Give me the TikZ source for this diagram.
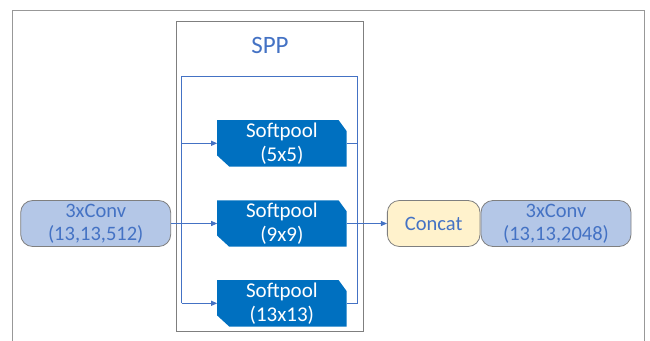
\documentclass[tikz,border=0pt]{standalone}
\usepackage{fontspec}
\setmainfont{Carlito}
\usetikzlibrary{arrows.meta,backgrounds}

\definecolor{poolblue}{HTML}{0070C0}
\definecolor{convfill}{HTML}{B4C7E7}
\definecolor{lineblue}{HTML}{4472C4}
\definecolor{concatfill}{HTML}{FFF2CC}
\definecolor{edgegray}{HTML}{7F7F7F}

\tikzset{
    link/.style={draw=lineblue, line width=0.8pt},
    tip/.style={-{Triangle[length=6pt,width=5pt]}},
    pool/.style={minimum width=129pt, minimum height=46pt, inner sep=0pt, align=center,
        text=white, font=\fontsize{21}{24}\selectfont},
    conv/.style={draw=edgegray, fill=convfill, rounded corners=12pt, line width=0.8pt,
        minimum width=150pt, minimum height=46pt, inner sep=0pt, align=center,
        text=lineblue, font=\fontsize{20.5}{23}\selectfont},
}

\begin{document}
\begin{tikzpicture}[x=1pt, y=-1pt]
    \useasboundingbox (0,0) rectangle (650,340);
    \draw[edgegray!80, line width=1pt] (12.3,345) |- (644.3,10.3) -- (644.3,345);
    \draw[edgegray, line width=1pt] (176.7,21.5) rectangle (363.3,331.7);
    \node[text=lineblue, font=\fontsize{25}{30}\selectfont] (spp) at (270,45) {SPP};

    \node[conv] (convin) at (95.7,223.5) {3xConv\\(13,13,512)};
    \node[pool] (p5) at (281.9,143.3) {Softpool\\(5x5)};
    \node[pool] (p9) at (281.9,223.5) {Softpool\\(9x9)};
    \node[pool] (p13) at (281.9,303.3) {Softpool\\(13x13)};
    \node[conv, fill=concatfill, minimum width=92.7pt] (concat) at (433.7,223.5) {Concat};
    \node[conv, minimum width=150pt] (convout) at (556,223.5) {3xConv\\(13,13,2048)};

    % snipped boxes behind the pooling labels
    \begin{scope}[on background layer]
        \foreach \p in {p5,p9,p13}
            \fill[poolblue] (\p.north west) -- ([xshift=-8pt]\p.north east)
                -- ([yshift=-11pt]\p.north east) -- (\p.south east)
                -- ([xshift=12pt]\p.south west) -- ([yshift=11pt]\p.south west) -- cycle;
    \end{scope}

    \coordinate (splitL) at (181.7,76.7);
    \coordinate (splitR) at (357.7,76.7);
    \draw[link] (splitL |- p13) |- (splitR) -- (splitR |- p13);
    \draw[link, tip] (splitL |- p5) -- (p5.west);
    \draw[link, tip] (convin.east) -- (p9.west);
    \draw[link, tip] (splitL |- p13) -- (p13.west);
    \draw[link] (p5.east) -- (splitR |- p5);
    \draw[link] (p13.east) -- (splitR |- p13);
    \draw[link, tip] (p9.east) -- (concat.west);
\end{tikzpicture}
\end{document}
